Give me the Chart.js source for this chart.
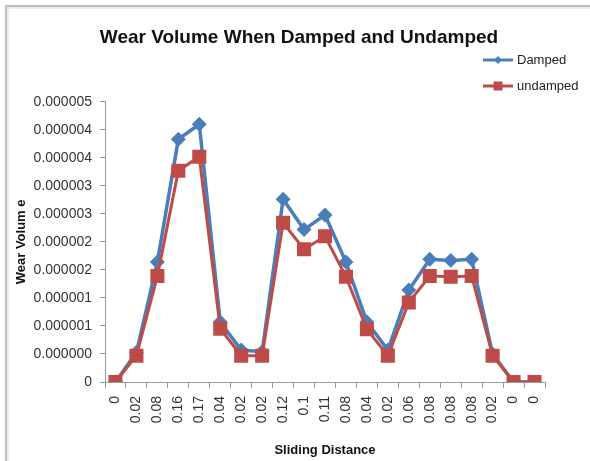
<!DOCTYPE html>
<html>
<head>
<meta charset="utf-8">
<script src="https://cdn.jsdelivr.net/npm/chart.js@4/dist/chart.umd.min.js"></script>
<style>
  html, body { margin: 0; padding: 0; background: #fff; }
  #wrap { position: relative; width: 590px; height: 461px; overflow: hidden; }
  #frame { position: absolute; left: 5px; top: 5px; width: 600px; height: 470px;
           border-top: 2px solid #bdbdbd; border-left: 2px solid #bdbdbd;
           box-shadow: inset 2px 2px 0 #ececec; }
  canvas { position: absolute; left: 0; top: 0; }
</style>
</head>
<body>
<div id="wrap">
  <div id="frame"></div>
  <canvas id="c" width="590" height="461"></canvas>
</div>
<script>
// Sliding distance categories along the x axis
const slidingDistance = ['0', '0.02', '0.08', '0.16', '0.17', '0.04', '0.02', '0.02', '0.12', '0.1',
  '0.11', '0.08', '0.04', '0.02', '0.06', '0.08', '0.08', '0.08', '0.02', '0', '0'];

// Wear volume, damped condition
const damped = [0, 0.00000053, 0.00000214, 0.00000433, 0.00000460, 0.00000107, 0.00000057,
  0.00000054, 0.00000326, 0.00000272, 0.00000298, 0.00000214, 0.00000107, 0.00000057,
  0.00000164, 0.00000219, 0.00000217, 0.00000219, 0.00000050, 0, 0];

// Wear volume, undamped condition
const undamped = [0, 0.00000047, 0.00000189, 0.00000377, 0.00000402, 0.00000095, 0.00000047,
  0.00000047, 0.00000284, 0.00000237, 0.00000260, 0.00000188, 0.00000094, 0.00000047,
  0.00000142, 0.00000189, 0.00000188, 0.00000189, 0.00000047, 0, 0];

// Value axis labels, printed with six decimals
const yTickLabels = ['0', '0.000000', '0.000001', '0.000001', '0.000002', '0.000002',
  '0.000003', '0.000003', '0.000004', '0.000004', '0.000005'];

const FONT = "'Liberation Sans', Arial, sans-serif";
const BLUE = '#4A7EBB';
const RED = '#BE4B48';

// Vertical legend in the upper right corner
const sideLegend = {
  id: 'sideLegend',
  afterDraw(chart) {
    const ctx = chart.ctx;
    const items = chart.data.datasets;
    ctx.save();
    items.forEach((ds, i) => {
      const y = 60 + i * 26;
      const x0 = 483, x1 = 513;
      ctx.strokeStyle = ds.borderColor;
      ctx.lineWidth = 3;
      ctx.beginPath(); ctx.moveTo(x0, y); ctx.lineTo(x1, y); ctx.stroke();
      ctx.fillStyle = ds.pointBackgroundColor;
      const cx = (x0 + x1) / 2;
      if (ds.pointStyle === 'rectRot') {
        const r = 4;
        ctx.beginPath();
        ctx.moveTo(cx, y - r); ctx.lineTo(cx + r, y); ctx.lineTo(cx, y + r); ctx.lineTo(cx - r, y);
        ctx.closePath(); ctx.fill();
      } else {
        ctx.fillRect(cx - 4.5, y - 4.5, 9, 9);
      }
      ctx.fillStyle = '#222';
      ctx.font = '13px ' + FONT;
      ctx.textBaseline = 'middle';
      ctx.textAlign = 'left';
      ctx.fillText(ds.label, x1 + 4, y);
    });
    ctx.restore();
  }
};

new Chart(document.getElementById('c'), {
  type: 'line',
  data: {
    labels: slidingDistance,
    datasets: [
      {
        label: 'Damped',
        data: damped,
        borderColor: BLUE,
        backgroundColor: BLUE,
        pointBackgroundColor: BLUE,
        pointBorderColor: BLUE,
        pointStyle: 'rectRot',
        pointRadius: 5,
        borderWidth: 3.5,
        tension: 0,
        order: 1
      },
      {
        label: 'undamped',
        data: undamped,
        borderColor: RED,
        backgroundColor: RED,
        pointBackgroundColor: RED,
        pointBorderColor: RED,
        pointStyle: 'rect',
        pointRadius: 7.8,
        borderWidth: 3,
        tension: 0,
        order: 0
      }
    ]
  },
  options: {
    responsive: false,
    animation: false,
    devicePixelRatio: 1,
    layout: { padding: { left: 8, right: 0, top: 0, bottom: 0 } },
    plugins: {
      legend: { display: false },
      tooltip: { enabled: false },
      title: {
        display: true,
        text: 'Wear Volume When Damped and Undamped',
        color: '#111',
        font: { family: FONT, size: 19, weight: 'bold' },
        padding: { top: 26, bottom: 53 }
      }
    },
    scales: {
      x: {
        offset: true,
        border: { color: '#9a9a9a', width: 1 },
        grid: { offset: true, drawOnChartArea: false, drawTicks: true, tickLength: 6, color: '#9a9a9a' },
        ticks: {
          autoSkip: false,
          minRotation: 90,
          maxRotation: 90,
          padding: 8,
          color: '#333',
          font: { family: FONT, size: 14 }
        },
        title: {
          display: true,
          text: 'Sliding Distance',
          color: '#111',
          font: { family: FONT, size: 13, weight: 'bold' },
          padding: { top: 4, bottom: 3 }
        },
        afterFit(scale) { scale.height = 79; }
      },
      y: {
        min: 0,
        max: 0.000005,
        border: { color: '#9a9a9a', width: 1 },
        grid: { drawOnChartArea: false, drawTicks: true, tickLength: 5, color: '#9a9a9a' },
        ticks: {
          stepSize: 0.0000005,
          padding: 8,
          color: '#333',
          font: { family: FONT, size: 14 },
          callback: (value, index) => yTickLabels[index]
        },
        title: {
          display: true,
          text: 'Wear Volum e',
          color: '#111',
          font: { family: FONT, size: 13, weight: 'bold' },
          padding: { top: 6, bottom: 4 }
        },
        afterFit(scale) { scale.width = 97; }
      },
      // Empty right-hand margin so the title centres on the whole canvas
      margin: {
        type: 'linear',
        position: 'right',
        display: true,
        min: 0,
        max: 1,
        border: { display: false },
        grid: { display: false, drawTicks: false },
        ticks: { display: false },
        afterFit(scale) { scale.width = 45; }
      }
    }
  },
  plugins: [sideLegend]
});
</script>
</body>
</html>
